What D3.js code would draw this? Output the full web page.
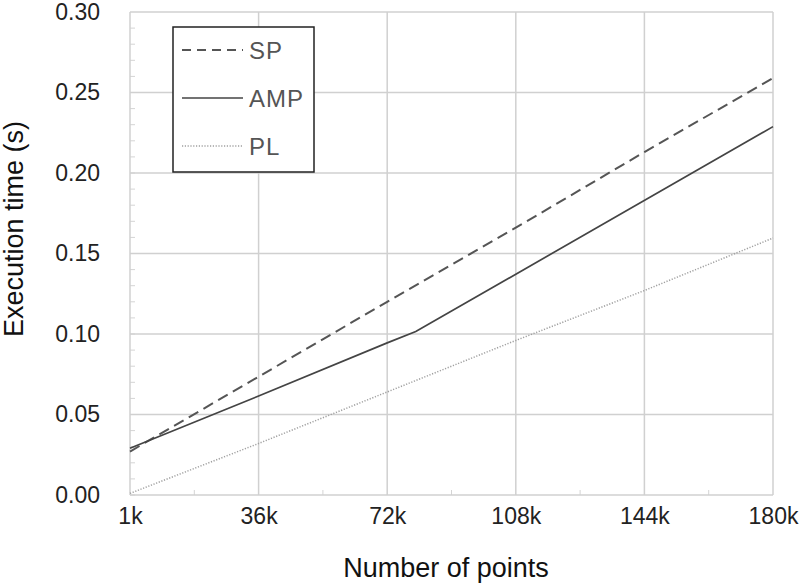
<!DOCTYPE html>
<html>
<head>
<meta charset="utf-8">
<script src="https://cdn.jsdelivr.net/npm/d3@7"></script>
<style>
  body { margin: 0; background: #fff; }
  text { font-family: "Liberation Sans", Arial, sans-serif; }
</style>
</head>
<body>
<div id="chart"></div>
<script>
// data (x in thousands of points)
var xTicks = [1, 36, 72, 108, 144, 180];
var xLabels = ["1k", "36k", "72k", "108k", "144k", "180k"];
var yTicks = [0, 0.05, 0.10, 0.15, 0.20, 0.25, 0.30];

var spX = [1, 36, 72, 108, 144, 180];
var spY = [0.027, 0.0735, 0.120, 0.166, 0.213, 0.259];

var ampX = [1, 36, 72, 80, 180];
var ampY = [0.029, 0.0615, 0.0945, 0.1015, 0.2288];

var plX = [1, 36, 72, 108, 144, 180];
var plY = [0.001, 0.032, 0.064, 0.096, 0.127, 0.1596];

var series = [
  {name: "SP", xs: spX, ys: spY, color: "#555", width: 2, dash: "11,6"},
  {name: "AMP", xs: ampX, ys: ampY, color: "#444", width: 1.7, dash: null},
  {name: "PL", xs: plX, ys: plY, color: "#a0a0a0", width: 1.5, dash: "1.2,1.6"}
];

// set the dimensions and margins of the graph
var margin = {top: 12, right: 27, bottom: 89, left: 130},
    width = 800 - margin.left - margin.right,
    height = 584 - margin.top - margin.bottom;

var svg = d3.select("#chart")
  .append("svg")
    .attr("width", 800)
    .attr("height", 584)
  .append("g")
    .attr("transform", "translate(" + margin.left + "," + margin.top + ")");

// ticks are evenly spaced, first one is 1k
var x = d3.scaleLinear()
  .domain(xTicks)
  .range(xTicks.map(function (d, i) { return i * width / (xTicks.length - 1); }));

var y = d3.scaleLinear()
  .domain([0, 0.30])
  .range([height, 0]);

// minor ticks
svg.append("g")
  .selectAll("line")
  .data(d3.range(0, 0.30, 0.01))
  .enter()
  .append("line")
    .attr("x1", 0).attr("x2", 5)
    .attr("y1", function (d) { return y(d); })
    .attr("y2", function (d) { return y(d); })
    .attr("stroke", "#d4d4d4");

svg.append("g")
  .selectAll("line")
  .data(d3.range(0, xTicks.length - 1))
  .enter()
  .append("line")
    .attr("x1", function (i) { return x((xTicks[i] + xTicks[i + 1]) / 2); })
    .attr("x2", function (i) { return x((xTicks[i] + xTicks[i + 1]) / 2); })
    .attr("y1", height).attr("y2", height - 5)
    .attr("stroke", "#d4d4d4");

// gridlines
svg.append("g")
  .selectAll("line")
  .data(yTicks)
  .enter()
  .append("line")
    .attr("x1", 0).attr("x2", width)
    .attr("y1", function (d) { return y(d); })
    .attr("y2", function (d) { return y(d); })
    .attr("stroke", "#d0d0d0")
    .attr("stroke-width", 1.5);

svg.append("g")
  .selectAll("line")
  .data(xTicks)
  .enter()
  .append("line")
    .attr("x1", function (d) { return x(d); })
    .attr("x2", function (d) { return x(d); })
    .attr("y1", 0).attr("y2", height)
    .attr("stroke", "#d0d0d0")
    .attr("stroke-width", 1.5);

// Y axis labels
var yAxis = svg.append("g")
  .call(d3.axisLeft(y).tickValues(yTicks).tickFormat(d3.format(".2f")).tickSize(0).tickPadding(30));
yAxis.select(".domain").remove();
yAxis.selectAll("text")
  .attr("font-size", 23)
  .attr("font-family", "Liberation Sans, Arial, sans-serif")
  .attr("fill", "#222");

// X axis labels
var xAxis = svg.append("g")
  .attr("transform", "translate(0," + height + ")")
  .call(d3.axisBottom(x).tickValues(xTicks)
    .tickFormat(function (d, i) { return xLabels[i]; })
    .tickSize(0).tickPadding(13));
xAxis.select(".domain").remove();
xAxis.selectAll("text")
  .attr("font-size", 23)
  .attr("font-family", "Liberation Sans, Arial, sans-serif")
  .attr("fill", "#222");

// lines
var line = d3.line()
  .x(function (d) { return x(d[0]); })
  .y(function (d) { return y(d[1]); });

series.forEach(function (s) {
  svg.append("path")
    .datum(d3.zip(s.xs, s.ys))
    .attr("fill", "none")
    .attr("stroke", s.color)
    .attr("stroke-width", s.width)
    .attr("stroke-dasharray", s.dash)
    .attr("d", line);
});

// axis titles
svg.append("text")
  .attr("x", 446 - margin.left)
  .attr("y", 577 - margin.top)
  .attr("text-anchor", "middle")
  .attr("font-size", 27)
  .attr("fill", "#111")
  .text("Number of points");

svg.append("text")
  .attr("transform", "translate(" + (23 - margin.left) + "," + (229 - margin.top) + ") rotate(-90)")
  .attr("text-anchor", "middle")
  .attr("font-size", 27)
  .attr("fill", "#111")
  .text("Execution time (s)");

// legend
var legend = svg.append("g")
  .attr("transform", "translate(" + (173 - margin.left) + "," + (27 - margin.top) + ")");

legend.append("rect")
  .attr("width", 141)
  .attr("height", 145)
  .attr("fill", "#fff")
  .attr("stroke", "#222")
  .attr("stroke-width", 1.5);

var items = legend.selectAll("g.item")
  .data(series)
  .enter()
  .append("g")
    .attr("transform", function (d, i) { return "translate(0," + (23 + i * 48) + ")"; });

items.append("line")
  .attr("x1", 9).attr("x2", 70)
  .attr("stroke", function (d) { return d.color; })
  .attr("stroke-width", function (d) { return d.width; })
  .attr("stroke-dasharray", function (d) { return d.dash === "11,6" ? "9,6" : d.dash; });

items.append("text")
  .attr("x", 76)
  .attr("y", 9)
  .attr("font-size", 24)
  .attr("font-family", "Open Sans, Noto Sans, sans-serif")
  .attr("letter-spacing", 1)
  .attr("fill", "#555")
  .text(function (d) { return d.name; });
</script>
</body>
</html>
